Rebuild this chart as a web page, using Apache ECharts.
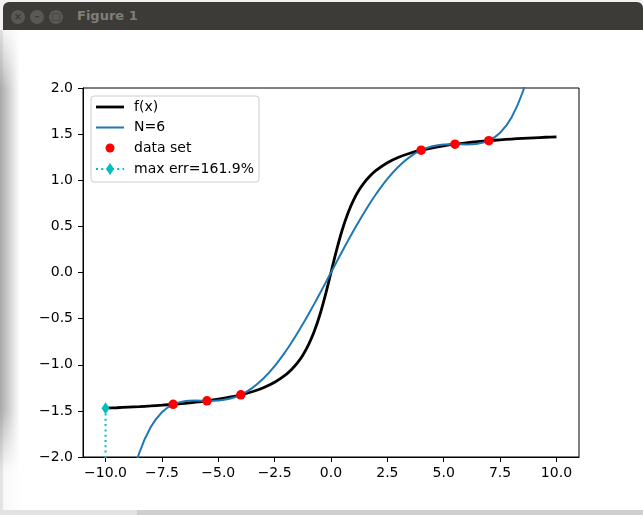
<!DOCTYPE html>
<html>
<head>
<meta charset="utf-8">
<script src="https://cdn.jsdelivr.net/npm/echarts@6/dist/echarts.min.js"></script>
<style>
  html, body { margin: 0; padding: 0; background: #f2f2f2; }
  #win { position: absolute; left: 0; top: 0; width: 643px; height: 515px; overflow: hidden; }
  #body { position: absolute; left: 3px; top: 30px; width: 640px; height: 480px; background: #fff; }
  #edge { position: absolute; left: 0; top: 30px; width: 3px; height: 480px; background: #e9e9e9; }
  #shadow { position: absolute; left: 0; top: 30px; width: 20px; height: 480px;
    background: linear-gradient(to right, #a9a9a9, rgba(255,255,255,0));
    -webkit-mask-image: linear-gradient(to bottom, rgba(0,0,0,0.15) 0, #000 60px, #000 380px, rgba(0,0,0,0.1) 440px);
    mask-image: linear-gradient(to bottom, rgba(0,0,0,0.15) 0, #000 60px, #000 380px, rgba(0,0,0,0.1) 440px); }
  #bottom { position: absolute; left: 0; top: 510px; width: 643px; height: 5px;
    background: linear-gradient(to right, #e2e2e2 0, #e2e2e2 137px, #cfcfcf 137px); }
  #titlebar { position: absolute; left: 3px; top: 2px; width: 640px; height: 28px; background: #3c3b37;
    border-radius: 6px 6px 0 0; }
  .btn { position: absolute; top: 8px; width: 14px; height: 14px; border-radius: 7px; background: #5a5955;
    color: #3c3b37; font: bold 10px "DejaVu Sans", sans-serif; line-height: 14px; text-align: center; }
  #title { position: absolute; left: 74px; top: 6px; color: #7f7e79; font: bold 13px "DejaVu Sans", sans-serif; }
  #chart { position: absolute; left: 0; top: 0; width: 643px; height: 515px; }
</style>
</head>
<body>
<div id="win">
  <div id="body"></div>
  <div id="edge"></div>
  <div id="shadow"></div>
  <div id="bottom"></div>
  <div id="titlebar">
    <div class="btn" style="left:8px">×</div>
    <div class="btn" style="left:27px">–</div>
    <div class="btn" style="left:46px">□</div>
    <div id="title">Figure 1</div>
  </div>
  <div id="chart"></div>
</div>
<script>
var xs = [-10, -9.5, -9, -8.5, -8, -7.5, -7, -6.5, -6, -5.5, -5, -4.5, -4, -3.5, -3, -2.5, -2,
  -1.75, -1.5, -1.25, -1, -0.75, -0.5, -0.25, 0, 0.25, 0.5, 0.75, 1, 1.25, 1.5, 1.75,
  2, 2.5, 3, 3.5, 4, 4.5, 5, 5.5, 6, 6.5, 7, 7.5, 8, 8.5, 9, 9.5, 10]

// f(x), black curve
var fVals = [-1.4711, -1.4659, -1.4601, -1.4537, -1.4464, -1.4382, -1.4289, -1.4181, -1.4056,
  -1.3909, -1.3734, -1.3521, -1.3258, -1.2925, -1.2490, -1.1903, -1.1071,
  -1.0517, -0.9828, -0.8961, -0.7854, -0.6435, -0.4636, -0.2450, 0, 0.2450, 0.4636, 0.6435,
  0.7854, 0.8961, 0.9828, 1.0517, 1.1071, 1.1903, 1.2490, 1.2925, 1.3258, 1.3521, 1.3734,
  1.3909, 1.4056, 1.4181, 1.4289, 1.4382, 1.4464, 1.4537, 1.4601, 1.4659, 1.4711]

// N=6, blue curve
var nVals = [-3.8548, -2.9955, -2.3783, -1.9538, -1.6785, -1.5144, -1.4290, -1.3945, -1.3881,
  -1.3909, -1.3883, -1.3692, -1.3258, -1.2533, -1.1495, -1.0146, -0.8508,
  -0.7592, -0.6619, -0.5595, -0.4529, -0.3428, -0.2300, -0.1154, 0, 0.1154, 0.2300, 0.3428,
  0.4529, 0.5595, 0.6619, 0.7592, 0.8508, 1.0146, 1.1495, 1.2533, 1.3258, 1.3692, 1.3883,
  1.3909, 1.3881, 1.3945, 1.4290, 1.5144, 1.6785, 1.9538, 2.3783, 2.9955, 3.8548]

// data set (red dots)
var dataX = [-7, -5.5, -4, 4, 5.5, 7]
var dataY = [-1.4289, -1.3909, -1.3258, 1.3258, 1.3909, 1.4289]

// max error marker
var errX = [-10, -10]
var errY = [-1.4711, -3.8548]

var xTicks = [-10, -7.5, -5, -2.5, 0, 2.5, 5, 7.5, 10]
var legendNames = ['f(x)', 'N=6', 'data set', 'max err=161.9%']

function zip(a, b) {
  var out = []
  for (var i = 0; i < a.length; i++) out.push([a[i], b[i]])
  return out
}
function fmt(v) {
  return v.toFixed(1).replace('-', '\u2212')
}

var chart = echarts.init(document.getElementById('chart'), null, { renderer: 'canvas' })
var font = 'DejaVu Sans'

// legend drawn by hand to look like the matplotlib one
var lgX = 91, lgY = 96, rows = [107, 127.5, 148, 169]
var legendGraphics = [
  { type: 'rect', shape: { x: lgX, y: lgY, width: 168, height: 86, r: 3 },
    style: { fill: 'rgba(255,255,255,0.8)', stroke: '#cccccc', lineWidth: 1 }, z: 100 },
  { type: 'line', shape: { x1: 96, y1: rows[0], x2: 124, y2: rows[0] },
    style: { stroke: '#000', lineWidth: 2.8 }, z: 101 },
  { type: 'line', shape: { x1: 96, y1: rows[1], x2: 124, y2: rows[1] },
    style: { stroke: '#1f77b4', lineWidth: 2 }, z: 101 },
  { type: 'circle', shape: { cx: 110, cy: rows[2], r: 4.5 },
    style: { fill: '#ff0000' }, z: 101 },
  { type: 'line', shape: { x1: 96, y1: rows[3], x2: 124, y2: rows[3] },
    style: { stroke: '#00bfbf', lineWidth: 2, lineDash: [2, 3.3] }, z: 101 },
  { type: 'polygon', shape: { points: [[110, rows[3] - 6], [114, rows[3]], [110, rows[3] + 6], [106, rows[3]]] },
    style: { fill: '#00bfbf' }, z: 102 }
]
for (var i = 0; i < legendNames.length; i++) {
  legendGraphics.push({
    type: 'text', x: 134, y: rows[i], z: 102,
    style: { text: legendNames[i], fill: '#000', font: '14px "' + font + '"', textVerticalAlign: 'middle' }
  })
}

var axisLine = { show: true, onZero: false, lineStyle: { color: '#000', width: 1 } }

var option = {
  animation: false,
  backgroundColor: 'transparent',
  grid: { left: 83, top: 88, right: 64, bottom: 58, show: true, borderColor: '#000', borderWidth: 1,
    backgroundColor: 'transparent' },
  xAxis: {
    type: 'value', min: -11, max: 11,
    splitLine: { show: false },
    axisLine: axisLine,
    axisTick: { show: true, length: 5, customValues: xTicks, lineStyle: { color: '#000' } },
    axisLabel: { customValues: xTicks, formatter: fmt, color: '#000', fontFamily: font, fontSize: 14, margin: 9 }
  },
  yAxis: {
    type: 'value', min: -2, max: 2, interval: 0.5,
    splitLine: { show: false },
    axisLine: axisLine,
    axisTick: { show: true, length: 5, lineStyle: { color: '#000' } },
    axisLabel: { formatter: fmt, color: '#000', fontFamily: font, fontSize: 14, margin: 10 }
  },
  series: [
    { name: 'f(x)', type: 'line', data: zip(xs, fVals), showSymbol: false, smooth: 0.3, clip: true,
      lineStyle: { color: '#000', width: 2.8 }, z: 2 },
    { name: 'N=6', type: 'line', data: zip(xs, nVals), showSymbol: false, smooth: 0.3, clip: true,
      lineStyle: { color: '#1f77b4', width: 2 }, z: 3 },
    { name: 'data set', type: 'scatter', data: zip(dataX, dataY), symbol: 'circle', symbolSize: 9.5,
      itemStyle: { color: '#ff0000', opacity: 1 }, z: 4 },
    { name: 'max err', type: 'line', data: zip(errX, errY), clip: true,
      symbol: 'diamond', symbolSize: [8, 12], showAllSymbol: true,
      lineStyle: { color: '#00bfbf', width: 2, type: [2, 3.3] },
      itemStyle: { color: '#00bfbf', opacity: 1 }, z: 5 }
  ],
  graphic: legendGraphics
}
chart.setOption(option)
</script>
</body>
</html>
